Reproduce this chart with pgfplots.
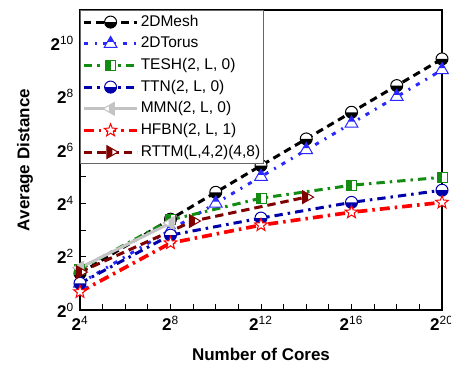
\documentclass[border=0pt]{standalone}
\usepackage{pgfplots}
\pgfplotsset{compat=1.18}
\usepackage{fontspec}
\setmainfont{Liberation Sans}
\usetikzlibrary{plotmarks}

\definecolor{torusblue}{RGB}{40,40,255}
\definecolor{teshgreen}{RGB}{20,140,20}
\definecolor{ttnblue}{RGB}{0,0,170}
\definecolor{mmngray}{RGB}{195,195,195}
\definecolor{hfbnred}{RGB}{255,0,0}
\definecolor{rttmred}{RGB}{128,0,0}

% circle, bottom half filled
\pgfdeclareplotmark{hcircle}{%
  \begin{pgfscope}\pgfsetfillcolor{white}\pgfpathcircle{\pgfpointorigin}{\pgfplotmarksize}\pgfusepathqfill\end{pgfscope}%
  \pgfpathmoveto{\pgfqpoint{-\pgfplotmarksize}{0pt}}%
  \pgfpatharc{180}{360}{\pgfplotmarksize}%
  \pgfpathclose\pgfusepathqfill
  \pgfpathcircle{\pgfpointorigin}{\pgfplotmarksize}\pgfusepathqstroke}
% triangle up, top part filled
\pgfdeclareplotmark{htriangle}{%
  \begin{pgfscope}\pgfsetfillcolor{white}%
  \pgfpathmoveto{\pgfqpoint{0pt}{\pgfplotmarksize}}%
  \pgfpathlineto{\pgfqpoint{-0.866\pgfplotmarksize}{-0.5\pgfplotmarksize}}%
  \pgfpathlineto{\pgfqpoint{0.866\pgfplotmarksize}{-0.5\pgfplotmarksize}}%
  \pgfpathclose\pgfusepathqfill\end{pgfscope}%
  \pgfpathmoveto{\pgfqpoint{0pt}{\pgfplotmarksize}}%
  \pgfpathlineto{\pgfqpoint{-0.433\pgfplotmarksize}{0.25\pgfplotmarksize}}%
  \pgfpathlineto{\pgfqpoint{0.433\pgfplotmarksize}{0.25\pgfplotmarksize}}%
  \pgfpathclose\pgfusepathqfill
  \pgfpathmoveto{\pgfqpoint{0pt}{\pgfplotmarksize}}%
  \pgfpathlineto{\pgfqpoint{-0.866\pgfplotmarksize}{-0.5\pgfplotmarksize}}%
  \pgfpathlineto{\pgfqpoint{0.866\pgfplotmarksize}{-0.5\pgfplotmarksize}}%
  \pgfpathclose\pgfusepathqstroke}
% square, left half filled
\pgfdeclareplotmark{hsquare}{%
  \begin{pgfscope}\pgfsetfillcolor{white}%
  \pgfpathrectangle{\pgfqpoint{-\pgfplotmarksize}{-\pgfplotmarksize}}{\pgfqpoint{2\pgfplotmarksize}{2\pgfplotmarksize}}\pgfusepathqfill\end{pgfscope}%
  \pgfpathrectangle{\pgfqpoint{-\pgfplotmarksize}{-\pgfplotmarksize}}{\pgfqpoint{\pgfplotmarksize}{2\pgfplotmarksize}}\pgfusepathqfill
  \pgfpathrectangle{\pgfqpoint{-\pgfplotmarksize}{-\pgfplotmarksize}}{\pgfqpoint{2\pgfplotmarksize}{2\pgfplotmarksize}}\pgfusepathqstroke}
% triangle right, left half filled
\pgfdeclareplotmark{htriright}{%
  \begin{pgfscope}\pgfsetfillcolor{white}%
  \pgfpathmoveto{\pgfqpoint{\pgfplotmarksize}{0pt}}%
  \pgfpathlineto{\pgfqpoint{-0.5\pgfplotmarksize}{0.866\pgfplotmarksize}}%
  \pgfpathlineto{\pgfqpoint{-0.5\pgfplotmarksize}{-0.866\pgfplotmarksize}}%
  \pgfpathclose\pgfusepathqfill\end{pgfscope}%
  \pgfpathmoveto{\pgfqpoint{-0.5\pgfplotmarksize}{0.866\pgfplotmarksize}}%
  \pgfpathlineto{\pgfqpoint{0.25\pgfplotmarksize}{0.433\pgfplotmarksize}}%
  \pgfpathlineto{\pgfqpoint{0.25\pgfplotmarksize}{-0.433\pgfplotmarksize}}%
  \pgfpathlineto{\pgfqpoint{-0.5\pgfplotmarksize}{-0.866\pgfplotmarksize}}%
  \pgfpathclose\pgfusepathqfill
  \pgfpathmoveto{\pgfqpoint{\pgfplotmarksize}{0pt}}%
  \pgfpathlineto{\pgfqpoint{-0.5\pgfplotmarksize}{0.866\pgfplotmarksize}}%
  \pgfpathlineto{\pgfqpoint{-0.5\pgfplotmarksize}{-0.866\pgfplotmarksize}}%
  \pgfpathclose\pgfusepathqstroke}
% triangle left, right half filled
\pgfdeclareplotmark{htrileft}{%
  \begin{pgfscope}\pgfsetfillcolor{white}%
  \pgfpathmoveto{\pgfqpoint{-\pgfplotmarksize}{0pt}}%
  \pgfpathlineto{\pgfqpoint{0.5\pgfplotmarksize}{0.866\pgfplotmarksize}}%
  \pgfpathlineto{\pgfqpoint{0.5\pgfplotmarksize}{-0.866\pgfplotmarksize}}%
  \pgfpathclose\pgfusepathqfill\end{pgfscope}%
  \pgfpathmoveto{\pgfqpoint{0.5\pgfplotmarksize}{0.866\pgfplotmarksize}}%
  \pgfpathlineto{\pgfqpoint{-0.25\pgfplotmarksize}{0.433\pgfplotmarksize}}%
  \pgfpathlineto{\pgfqpoint{-0.25\pgfplotmarksize}{-0.433\pgfplotmarksize}}%
  \pgfpathlineto{\pgfqpoint{0.5\pgfplotmarksize}{-0.866\pgfplotmarksize}}%
  \pgfpathclose\pgfusepathqfill
  \pgfpathmoveto{\pgfqpoint{-\pgfplotmarksize}{0pt}}%
  \pgfpathlineto{\pgfqpoint{0.5\pgfplotmarksize}{0.866\pgfplotmarksize}}%
  \pgfpathlineto{\pgfqpoint{0.5\pgfplotmarksize}{-0.866\pgfplotmarksize}}%
  \pgfpathclose\pgfusepathqstroke}
% five-pointed star
\pgfdeclareplotmark{fstar}{%
  \pgfpathmoveto{\pgfpointpolar{90}{\pgfplotmarksize}}%
  \pgfpathlineto{\pgfpointpolar{126}{0.42\pgfplotmarksize}}%
  \pgfpathlineto{\pgfpointpolar{162}{\pgfplotmarksize}}%
  \pgfpathlineto{\pgfpointpolar{198}{0.42\pgfplotmarksize}}%
  \pgfpathlineto{\pgfpointpolar{234}{\pgfplotmarksize}}%
  \pgfpathlineto{\pgfpointpolar{270}{0.42\pgfplotmarksize}}%
  \pgfpathlineto{\pgfpointpolar{306}{\pgfplotmarksize}}%
  \pgfpathlineto{\pgfpointpolar{342}{0.42\pgfplotmarksize}}%
  \pgfpathlineto{\pgfpointpolar{18}{\pgfplotmarksize}}%
  \pgfpathlineto{\pgfpointpolar{54}{0.42\pgfplotmarksize}}%
  \pgfpathclose\pgfusepathqfillstroke}

\newcommand{\tl}[1]{\textbf{2}\textsuperscript{#1}}

\begin{document}
\begin{tikzpicture}
\begin{axis}[
  at={(0pt,0pt)}, anchor=south west,
  scale only axis, width=217.2pt, height=180pt,
  xmode=log, ymode=log, log basis x=2, log basis y=2,
  xmin=16, xmax=1048576, ymin=1, ymax=2435.5,
  xtick={16,32,64,128,256,512,1024,2048,4096,8192,16384,32768,65536,131072,262144,524288,1048576},
  xticklabels={\tl{4},,,,\tl{8},,,,\tl{12},,,,\tl{16},,,,\tl{20}},
  ytick={1,2,4,8,16,32,64,128,256,512,1024,2048},
  yticklabels={\tl{0},,\tl{2},,\tl{4},,\tl{6},,\tl{8},,\tl{10},},
  tick align=inside, tick pos=left,
  major tick length=3.6pt,
  tick style={black, line width=0.6pt},
  axis line style={line width=0.8pt},
  ticklabel style={font=\fontsize{10.2}{12}\selectfont},
  xlabel={\textbf{Number of Cores}},
  ylabel={\textbf{Average Distance}},
  label style={font=\fontsize{10.2}{12}\selectfont},
  xlabel style={at={(axis description cs:0.5,-0.147)}, anchor=center},
  ylabel style={at={(axis description cs:-0.152,0.5)}, anchor=center},
  legend style={at={(0,1)}, anchor=north west, draw=gray!80!black, line width=0.5pt,
    font=\fontsize{9.3}{11}\selectfont, inner xsep=1pt, inner ysep=1pt,
    row sep=1pt,
    /tikz/column 2/.style={column sep=10pt},
    nodes={inner sep=1pt, text height=7.5pt, text depth=2.5pt}},
  legend cell align=left,
  legend image code/.code={\draw[mark repeat=2,mark phase=2] plot coordinates {(0pt,0pt) (16pt,0pt) (32pt,0pt)};},
  clip=false,
]
\addplot[black, line width=1.8pt, dash pattern=on 4.5pt off 3pt,
  mark=hcircle, mark size=3.6pt, mark options={solid, line width=0.6pt, draw=black, fill=black}]
  coordinates {(16,2.6) (256,10.6) (1024,21.3) (4096,42.7) (16384,85.3) (65536,170.7) (262144,341.3) (1048576,682.7)};
\addlegendentry{2DMesh}
\addplot[torusblue, line width=1.8pt, dash pattern=on 2.5pt off 4pt on 1.2pt off 4pt,
  mark=htriangle, mark size=4.4pt, mark options={solid, line width=0.6pt, draw=torusblue, fill=torusblue}]
  coordinates {(16,2) (256,8) (1024,16) (4096,32) (16384,64) (65536,128) (262144,256) (1048576,512)};
\addlegendentry{2DTorus}
\addplot[teshgreen, line width=1.8pt, dash pattern=on 5pt off 3pt on 1.5pt off 3pt,
  mark=hsquare, mark size=3pt, mark options={solid, line width=0.6pt, draw=teshgreen, fill=teshgreen}]
  coordinates {(16,2.9) (256,10.4) (4096,18.3) (65536,25.6) (1048576,31.5)};
\addlegendentry{TESH(2, L, 0)}
\addplot[ttnblue, line width=1.8pt, dash pattern=on 5pt off 3pt on 1.5pt off 3pt,
  mark=hcircle, mark size=3.6pt, mark options={solid, line width=0.6pt, draw=ttnblue, fill=ttnblue}]
  coordinates {(16,2.0) (256,7.0) (4096,10.9) (65536,16.4) (1048576,22.5)};
\addlegendentry{TTN(2, L, 0)}
\addplot[mmngray, line width=1.8pt,
  mark=htrileft, mark size=4.4pt, mark options={solid, line width=0.6pt, draw=mmngray, fill=mmngray}]
  coordinates {(16,3.0) (256,9.6)};
\addlegendentry{MMN(2, L, 0)}
\addplot[hfbnred, line width=2.2pt, dash pattern=on 6pt off 3pt on 1.5pt off 3pt,
  mark=fstar, mark size=4pt, mark options={solid, line width=0.6pt, draw=hfbnred, fill=white}]
  coordinates {(16,1.6) (256,5.7) (4096,9.1) (65536,12.7) (1048576,16.4)};
\addlegendentry{HFBN(2, L, 1)}
\addplot[rttmred, line width=1.8pt, dash pattern=on 5pt off 3pt,
  mark=htriright, mark size=4.4pt, mark options={solid, line width=0.6pt, draw=rttmred, fill=rttmred}]
  coordinates {(16,2.68) (512,10.1) (16384,18.8)};
\addlegendentry{RTTM(L,4,2)(4,8)}
\end{axis}
\pgfresetboundingbox
\path[use as bounding box] (-48pt,-34.2pt) rectangle (222.6pt,186pt);
\end{tikzpicture}
\end{document}
